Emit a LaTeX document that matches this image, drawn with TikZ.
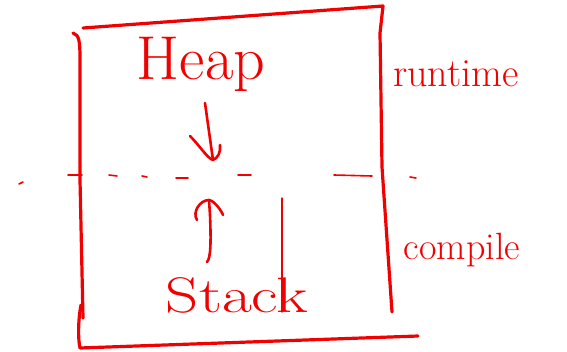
\documentclass[tikz,border=0pt]{standalone}
\usetikzlibrary{arrows.meta}
\definecolor{ink}{RGB}{240,0,0}
\begin{document}
\begin{tikzpicture}[x=1pt,y=-1pt,
  pen/.style={draw=ink,line width=3.2pt,line cap=round,line join=round},
  thin pen/.style={draw=ink,line width=1.3pt,line cap=round},
  dashpen/.style={draw=ink,line width=1.6pt,line cap=round},
  word/.style={text=ink,inner sep=0pt,anchor=center}]
\useasboundingbox (0,0) rectangle (567,351);
% box outline
\draw[pen] (73,33) .. controls (79,35) and (80,40) .. (80,60) -- (80,180) -- (83,318);
\draw[pen] (83,28) -- (383,6) -- (380,33) -- (382,167) -- (392,312);
\draw[pen] (81,305) .. controls (78,320) and (78,340) .. (80,348) -- (418,336);
% dashed divider
\draw[dashpen] (19,184) -- (23,182);
\draw[dashpen] (68,175) -- (82,175);
\draw[dashpen] (109,175) -- (117,176);
\draw[dashpen] (142,176) -- (147,177);
\draw[dashpen] (176,178) -- (188,178);
\draw[dashpen] (238,175) -- (251,175);
\draw[dashpen] (334,175) -- (372,176);
\draw[dashpen] (410,177) -- (416,178);
\coordinate (divtop) at (213,160);
\coordinate (divbot) at (209,200);
% labels
\node[word,font=\fontsize{62}{62}\selectfont] (heap) at (201,64) {Heap};
\node[word,font=\fontsize{50}{50}\selectfont,xscale=1.3] (stack) at (237,295) {Stack};
\node[word,font=\fontsize{40}{40}\selectfont] (runtime) at (456,74) {runtime};
\node[word,font=\fontsize{38}{38}\selectfont] (compile) at (462,250) {compile};
% arrows
\draw[pen,line width=2.6pt] (205,103) -- (divtop);
\draw[pen,line width=2.6pt] (190,136) .. controls (200,146) and (207,158) .. (divtop) .. controls (218,158) and (221,152) .. (220,145);
\draw[pen,line width=2.6pt] (207,262) .. controls (211,258) and (211,240) .. (210,215) -- (divbot);
\draw[pen,line width=2.6pt] (197,220) .. controls (192,212) and (200,200) .. (divbot) .. controls (215,201) and (222,212) .. (223,215);
% thin vertical line
\coordinate (vtop) at (282,198);
\coordinate (vbot) at (282,312);
\draw[thin pen] (vtop) -- (vbot);
\end{tikzpicture}
\end{document}
